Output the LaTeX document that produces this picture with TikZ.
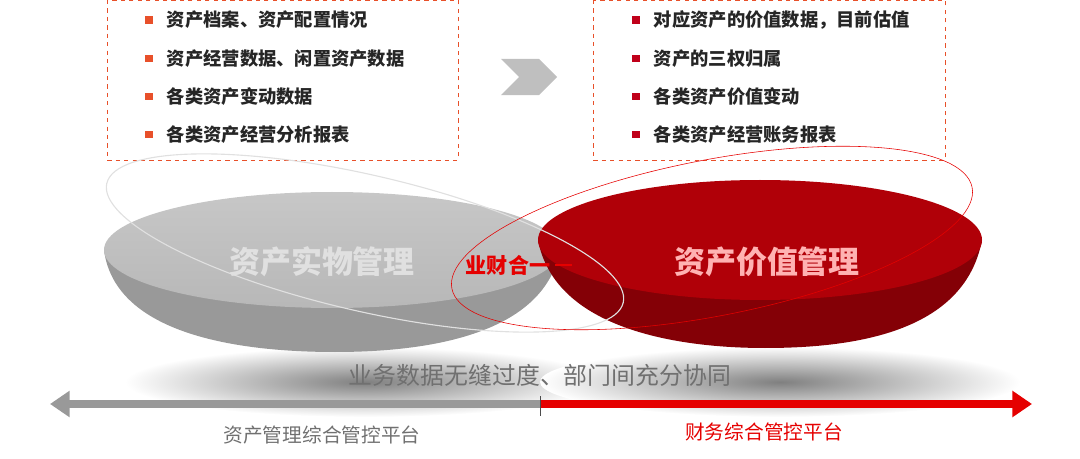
\documentclass[tikz,border=0pt]{standalone}
\usepackage{fontspec}
\newfontfamily\cjk{Noto Sans CJK SC}
\usetikzlibrary{arrows.meta,positioning,shapes.symbols}
\definecolor{bulletorange}{HTML}{E8502A}
\definecolor{bulletred}{HTML}{C0001A}
\definecolor{discred}{HTML}{B00008}
\definecolor{textgray}{HTML}{707070}
\tikzset{
  listbox/.style={draw=bulletorange, dashed, thin},
  item/.style={anchor=west, font=\cjk\bfseries\fontsize{13}{15}\selectfont, text=black!85},
  bullet/.style={fill=#1, minimum width=6pt, minimum height=5pt, inner sep=0pt},
  bigtitle/.style={font=\cjk\bfseries\fontsize{22}{26}\selectfont},
  caption/.style={font=\cjk\fontsize{14}{16}\selectfont}
}
\begin{document}
\begin{tikzpicture}[x=0.025cm, y=-0.025cm]
    \useasboundingbox (0,0) rectangle (1080,459);
    % list boxes
    \draw[listbox] (107,0) rectangle (458,160);
    \draw[listbox] (593,0) rectangle (945,160);
    \foreach \t [count=\i] in {资产档案、资产配置情况, 资产经营数据、闲置资产数据, 各类资产变动数据, 各类资产经营分析报表} {
        \node[bullet=bulletorange] (lb\i) at (149,{20+(\i-1)*38.3}) {};
        \node[item, right=6pt of lb\i] (lt\i) {\t};
    }
    \foreach \t [count=\i] in {对应资产的价值数据，目前估值, 资产的三权归属, 各类资产价值变动, 各类资产经营账务报表} {
        \node[bullet=bulletred] (rb\i) at (636,{20+(\i-1)*38.3}) {};
        \node[item, right=6pt of rb\i] (rt\i) {\t};
    }
    % chevron
    \node[fill=black!25, signal, signal to=east, signal from=west, minimum width=1.4cm, minimum height=0.9cm, inner sep=0pt] (chev) at (529,77) {};
    % shadows
    \shade[inner color=black!50, outer color=white] (365,382) ellipse (240 and 35);
    \shade[inner color=black!50, outer color=white] (780,382) ellipse (240 and 35);
    % gray disc
    \fill[black!40] (104,250) .. controls (115,335) and (240,352) .. (335,352) .. controls (440,352) and (545,330) .. (560,250) -- cycle;
    \shade[top color=black!22, bottom color=black!28] (332,250) ellipse (228 and 58);
    % red disc
    \fill[discred!75!black] (538,240) .. controls (555,330) and (680,348) .. (765,348) .. controls (860,348) and (965,330) .. (982,240) -- cycle;
    \fill[discred] (760,240) ellipse (222 and 60);
    % outlines
    \draw[black!12, thick, rotate around={-13:(365,243)}] (365,243) ellipse (265 and 68);
    \draw[red!90!black, rotate around={11:(712,238)}] (712,238) ellipse (265 and 78);
    % titles
    \node[bigtitle, text=black!12] (phys) at (322,262) {资产实物管理};
    \node[bigtitle, text=red!30!white] (value) at (767,262) {资产价值管理};
    \node[font=\cjk\bfseries\fontsize{15}{17}\selectfont, text=red!90!black] (ycf) at (508,265) {业财合一};
    \coordinate (ycfend) at (572,265);
    \draw[red!90!black, line width=1.2pt] (ycf.east) -- (ycfend);
    % platform arrow
    \node[font=\cjk\fontsize{17}{19}\selectfont, text=textgray] (sync) at (540,375) {业务数据无缝过度、部门间充分协同};
    \coordinate (split) at (540,404);
    \coordinate (leftend) at (50,404);
    \coordinate (rightend) at (1032,404);
    \draw[black!40, line width=6pt, -{Triangle[length=14pt,width=18pt]}] (split) -- (leftend);
    \draw[red!90!black, line width=6pt, -{Triangle[length=14pt,width=18pt]}] (split) -- (rightend);
    \draw[black!70, thin] (540,396) -- (540,416);
    \node[caption, text=textgray] (lplat) at (322,435) {资产管理综合管控平台};
    \node[caption, text=red!90!black] (rplat) at (764,432) {财务综合管控平台};
\end{tikzpicture}
\end{document}
